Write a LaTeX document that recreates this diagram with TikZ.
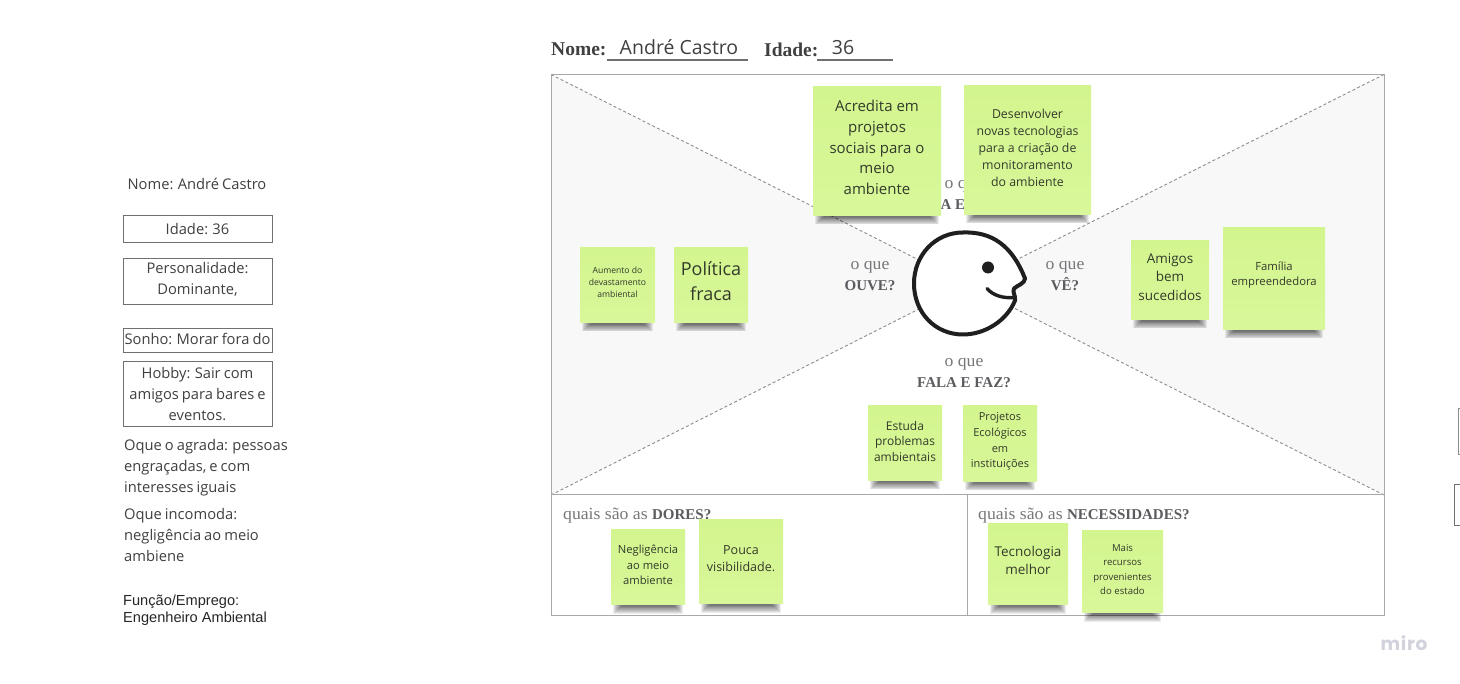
\documentclass[tikz,border=0pt]{standalone}
\usepackage{fontspec}
\setmainfont{Open Sans}
\newfontfamily\opensans[WordSpace=0.8]{Open Sans}
\newfontfamily\serifhead[FakeStretch=1.04]{Liberation Serif}
\newfontfamily\serifstrong{Liberation Serif}
\newfontfamily\arialfont{Liberation Sans}
\newfontfamily\mirofont[LetterSpace=4]{Poppins}
\newcommand{\hb}[1]{{\serifstrong\bfseries\color{headbold}\fontsize{15}{21}\selectfont #1}}
\definecolor{stickytop}{HTML}{D3F58E}
\definecolor{stickybot}{HTML}{D8F79A}
\definecolor{stickytext}{HTML}{333A2A}
\definecolor{headgray}{HTML}{77777A}
\definecolor{headbold}{HTML}{5C5C60}
\definecolor{framegray}{HTML}{A8A8AC}
\definecolor{wedge}{HTML}{F8F8F9}
\definecolor{boxline}{HTML}{707070}
\definecolor{lefttext}{HTML}{404040}
\definecolor{mirogray}{HTML}{D2D2DC}
\tikzset{
  frameline/.style={draw=framegray,line width=1pt},
  dashline/.style={draw=gray!90,line width=0.9pt,dash pattern=on 3pt off 2.4pt},
  stickybox/.style={rectangle,inner sep=0pt,outer sep=0pt,top color=stickytop,bottom color=stickybot,draw=none},
  stickylabel/.style={align=center,inner sep=0pt,text=stickytext},
  infobox/.style={rectangle,draw=boxline,line width=1pt,inner sep=0pt,fill=white},
  infotext/.style={align=center,inner sep=0pt,text=lefttext,font=\opensans\fontsize{14.7}{21}\selectfont},
  infoleft/.style={align=left,anchor=north west,inner sep=0pt,text=lefttext,font=\opensans\fontsize{14.7}{21}\selectfont},
  headtext/.style={align=center,inner sep=0pt,text=headgray,font=\serifhead\fontsize{17}{21}\selectfont},
  rowtext/.style={anchor=west,inner sep=0pt,text=headgray,font=\serifhead\fontsize{17}{21}\selectfont},
  formlabel/.style={anchor=west,inner sep=0pt,text=black!75,font=\serifstrong\bfseries\fontsize{19.5}{21}\selectfont},
  formvalue/.style={inner sep=0pt,text=lefttext,font=\fontsize{19.5}{22}\selectfont},
}
% name, x1, y1, x2, y2, font size, leading, text centre y, text
\newcommand{\stickynote}[9]{%
  \foreach \k in {0,1,...,9}{%
    \fill[black,opacity=0.075]
      ({#2+2+\k*1.0},#5-2) rectangle ({#4-2-\k*1.0},{#5+9-\k*0.85});
  }%
  \node[stickybox,minimum width={(#4-#2)*1pt},minimum height={(#5-#3)*1pt}] (#1) at ({(#2+#4)/2},{(#3+#5)/2}) {};
  \node[stickylabel,font=\fontsize{#6}{#7}\selectfont] (#1t) at ({(#2+#4)/2},#8) {#9};
}
\begin{document}
\begin{tikzpicture}[x=1pt,y=-1pt]
\useasboundingbox (0,-0.5) rectangle (1460,683.5);
\fill[white] (0,-0.5) rectangle (1460,683.5);

% frame corners and centre
\coordinate (tl) at (551,74);
\coordinate (tr) at (1384,74);
\coordinate (ml) at (551,494.5);
\coordinate (mr) at (1384,494.5);
\coordinate (bl) at (551,615);
\coordinate (br) at (1384,615);
\coordinate (mm) at (967.5,494.5);
\coordinate (bm) at (967.5,615);
\coordinate (cc) at (967.5,284);

\fill[wedge] (tl) -- (cc) -- (ml) -- cycle;
\fill[wedge] (tr) -- (cc) -- (mr) -- cycle;
\draw[dashline] (tl) -- (cc);
\draw[dashline] (ml) -- (cc);
\draw[dashline] (tr) -- (cc);
\draw[dashline] (mr) -- (cc);
\draw[frameline] (tl) rectangle (br);
\draw[frameline] (ml) -- (mr);
\draw[frameline] (mm) -- (bm);

% header form
\node[formlabel] (nomelab) at (551,49) {Nome:};
\node[formvalue] (nomeval) at (679,47) {André Castro};
\coordinate (u1a) at (607,59.5);
\coordinate (u1b) at (748,59.5);
\draw[boxline,line width=1.5pt] (u1a) -- (u1b);
\node[formlabel] (idadelab) at (764,49) {Idade:};
\node[formvalue] (idadeval) at (843,47) {36};
\coordinate (u2a) at (817,59.5);
\coordinate (u2b) at (893,59.5);
\draw[boxline,line width=1.5pt] (u2a) -- (u2b);

% section headings
\node[headtext] (pensa) at (964,195) {o que\\\hb{PENSA E SENTE?}};
\node[headtext] (ouve) at (870,275.5) {o que\\\hb{OUVE?}};
\node[headtext] (ve) at (1065,275.5) {o que\\\hb{VÊ?}};
\node[headtext] (fala) at (964,372.5) {o que\\\hb{FALA E FAZ?}};
\node[rowtext] (dores) at (563,515) {quais são as \hb{DORES?}};
\node[rowtext] (neces) at (978,515) {quais são as \hb{NECESSIDADES?}};

% face
\draw[fill=white,draw=black!88,line width=4pt,line join=round,line cap=round]
  (1025,278) .. controls (1012,245) and (992,231) .. (963,232)
  .. controls (935,232) and (914,255) .. (914,283)
  .. controls (914,312) and (935,334) .. (963,334)
  .. controls (985,334) and (1007,320) .. (1015,300)
  .. controls (1016,295) and (1012,292) .. (1014,288)
  .. controls (1017,285) and (1025,283) .. (1025,278);
\draw[draw=black!88,line width=3.4pt,line cap=round]
  (987,288) .. controls (993,295) and (1003,298) .. (1014,297);
\fill[black!88] (988,267) circle (6);

% stickies
\stickynote{s1}{813}{86}{941}{215}{15}{20.7}{147}{Acredita em\\projetos\\sociais para o\\meio\\ambiente}
\stickynote{s2}{964}{85}{1091}{214}{12.3}{17}{147}{Desenvolver\\novas tecnologias\\para a criação de\\monitoramento\\do ambiente}
\stickynote{s3}{580}{247}{655}{322}{8.6}{12}{282}{Aumento do\\devastamento\\ambiental}
\stickynote{s4}{674}{247}{748}{322}{18}{25}{281}{Política\\fraca}
\stickynote{s5}{1131}{240}{1209}{319}{13.5}{18.5}{276.5}{Amigos\\bem\\sucedidos}
\stickynote{s6}{1223}{227}{1325}{329}{11.3}{15}{275}{Família\\empreendedora}
\stickynote{s7}{868}{405}{942}{480}{12}{16}{441}{Estuda\\problemas\\ambientais}
\stickynote{s8}{963}{405}{1037}{481}{11}{15.6}{441}{Projetos\\Ecológicos\\em\\instituições}
\stickynote{s9}{611}{529}{685}{604}{11.2}{15.5}{564.5}{Negligência\\ao meio\\ambiente}
\stickynote{s10}{699}{519}{783}{603}{12.5}{17}{558}{Pouca\\visibilidade.}
\stickynote{s11}{988}{523}{1068}{604}{13.5}{18}{560}{Tecnologia\\melhor}
\stickynote{s12}{1082}{530}{1163}{612}{9.6}{14.5}{569}{Mais\\recursos\\provenientes\\do estado}

% left column
\node[infotext] (nome) at (197,183) {Nome: André Castro};
\node[infobox,minimum width=149pt,minimum height=27pt,font=\opensans\fontsize{14.7}{21}\selectfont,text=lefttext] (idade) at (197.5,228.5) {Idade: 36};
\node[infobox,minimum width=149pt,minimum height=46pt] (perso) at (197.5,281) {};
\node[infotext] (persot) at (197.5,279) {Personalidade:\\Dominante,};
\node[infobox,minimum width=149pt,minimum height=24pt] (sonho) at (197.5,340) {};
\node[infotext] (sonhot) at (197.5,338) {Sonho: Morar fora do};
\node[infobox,minimum width=149pt,minimum height=65pt] (hobby) at (197.5,393.5) {};
\node[infotext] (hobbyt) at (197.5,393.5) {Hobby: Sair com\\amigos para bares e\\eventos.};
\node[infoleft] (agrada) at (124,438.5) {Oque o agrada: pessoas\\engraçadas, e com\\interesses iguais};
\node[infoleft] (incomoda) at (124,507.5) {Oque incomoda:\\negligência ao meio\\ambiene};
\node[infoleft,font=\arialfont\fontsize{14.6}{16.5}\selectfont,text=black!85] (funcao) at (123,594.5) {Função/Emprego:\\Engenheiro Ambiental};

% cut-off boxes at the right edge
\coordinate (e1a) at (1460,408);
\coordinate (e1b) at (1458,408);
\coordinate (e1c) at (1458,454);
\coordinate (e1d) at (1460,454);
\draw[boxline!80,line width=1pt] (e1a) -- (e1b) -- (e1c) -- (e1d);
\coordinate (e2a) at (1460,484.5);
\coordinate (e2b) at (1454.5,484.5);
\coordinate (e2c) at (1454.5,525.5);
\coordinate (e2d) at (1460,525.5);
\draw[boxline,line width=1pt] (e2a) -- (e2b) -- (e2c) -- (e2d);

% watermark
\node[inner sep=0pt,text=mirogray,font=\mirofont\bfseries\fontsize{18.5}{20}\selectfont] (miro) at (1404,643) {miro};
\end{tikzpicture}
\end{document}
